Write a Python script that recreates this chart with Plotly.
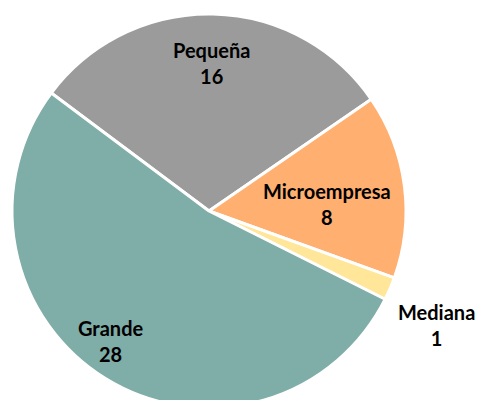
import math
import plotly.graph_objects as go

labels = ["Pequeña", "Microempresa", "Mediana", "Grande"]
values = [16, 8, 1, 28]
colors = ["#9B9B9B", "#FFAF70", "#FFE699", "#7FADA8"]
# label placement style: (radius fraction, angle nudge in degrees)
label_style = [(0.75, 0.0), (0.60, 4.0), (1.29, 3.5), (0.83, 5.5)]

W, H = 481, 422
cx, cy, R = 209, 211, 197
rotation = -53.2

fig = go.Figure(go.Pie(
    labels=labels, values=values, sort=False, direction="clockwise",
    rotation=rotation, marker=dict(colors=colors, line=dict(color="white", width=3)),
    textinfo="none", hoverinfo="label+value",
    domain=dict(x=[(cx - R) / W, (cx + R) / W], y=[(H - cy - R) / H, (H - cy + R) / H]),
    showlegend=False,
))

total = sum(values)
start = rotation
for lab, val, (rf, nudge) in zip(labels, values, label_style):
    span = val / total * 360
    mid = math.radians(start + span / 2 + nudge)
    start += span
    px = cx + rf * R * math.sin(mid)
    py = cy - rf * R * math.cos(mid)
    fig.add_annotation(
        x=px / W, y=(H - py) / H, xref="paper", yref="paper",
        text=f"<b>{lab}</b><br><b>{val}</b>", showarrow=False,
        font=dict(family="Lato, Carlito, Calibri, sans-serif", size=20, color="black"),
        align="center", xanchor="center", yanchor="middle",
    )

fig.update_layout(
    width=W, height=H, margin=dict(l=0, r=0, t=0, b=0),
    paper_bgcolor="white", plot_bgcolor="white",
)
fig.write_html("out.html", config={"displayModeBar": False},
               post_script="document.body.style.margin='0';document.body.style.overflow='hidden';")
